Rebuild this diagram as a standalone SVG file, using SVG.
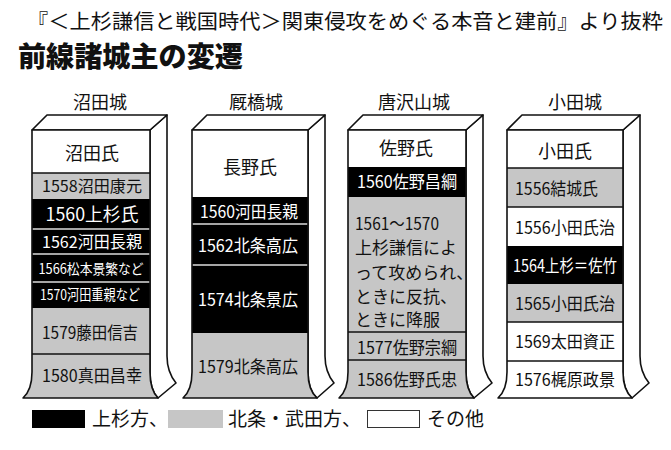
<svg xmlns="http://www.w3.org/2000/svg" width="671" height="450" viewBox="0 0 671 450">
<style>
text{font-family:"Noto Sans CJK JP","Noto Sans",sans-serif;fill:#111}
.c{text-anchor:middle}
.w{fill:#fff}
.cap{font-size:18px;text-anchor:middle}
.out{fill:#fff;stroke:#111;stroke-width:1.6;stroke-linejoin:round}
.fr{fill:none;stroke:#111;stroke-width:1.6;stroke-linejoin:round}
.g{fill:#c6c6c6}
.b{fill:#000}
.wf{fill:#fff}
.sk{stroke:#111;stroke-width:1.4}
.sw{stroke:#ddd;stroke-width:1.4}
</style>
<defs>
<clipPath id="k1"><path d="M32,130 H150 V372 Q150,390 158,398 H23 Q32,390 32,372 Z"/></clipPath>
<clipPath id="k2"><path d="M192,130 H308 V372 Q308,390 317,398 H183 Q192,390 192,372 Z"/></clipPath>
<clipPath id="k3"><path d="M348,130 H466 V372 Q466,390 474,398 H339 Q348,390 348,372 Z"/></clipPath>
<clipPath id="k4"><path d="M507,130 H623 V372 Q623,390 632,398 H498 Q507,390 507,372 Z"/></clipPath>
</defs>
<rect width="671" height="450" fill="#fff"/>
<text x="27" y="28.5" style="font-size:20px" textLength="636" lengthAdjust="spacingAndGlyphs">『＜上杉謙信と戦国時代＞関東侵攻をめぐる本音と建前』より抜粋</text>
<text x="18" y="67" style="font-size:28px;font-weight:900" textLength="225" lengthAdjust="spacingAndGlyphs">前線諸城主の変遷</text>

<g id="numata">
<text class="cap" x="100" y="108.7">沼田城</text>
<path class="out" d="M150,130 L167,115 V356 Q167,372 176,383 L158,398 Q150,390 150,372 Z"/>
<path class="out" d="M32,130 L47,115 H167 L150,130 Z"/>
<g clip-path="url(#k1)">
<rect class="wf" x="20" y="130" width="140" height="43"/>
<rect class="g" x="20" y="173" width="140" height="26"/>
<rect class="b" x="20" y="199" width="140" height="109"/>
<rect class="g" x="20" y="308" width="140" height="92"/>
<line class="sk" x1="20" y1="173" x2="160" y2="173"/>
<line class="sw" x1="20" y1="229" x2="160" y2="229"/>
<line class="sw" x1="20" y1="254" x2="160" y2="254"/>
<line class="sw" x1="20" y1="282" x2="160" y2="282"/>
<line class="sk" x1="20" y1="354" x2="160" y2="354"/>
</g>
<path class="fr" d="M32,130 H150 V372 Q150,390 158,398 H23 Q32,390 32,372 Z"/>
<text class="c" x="92" y="159.7" style="font-size:18px">沼田氏</text>
<text class="c" x="92" y="192" style="font-size:16px" textLength="100" lengthAdjust="spacingAndGlyphs">1558沼田康元</text>
<text class="c w" x="92" y="220.7" style="font-size:18px" textLength="93" lengthAdjust="spacingAndGlyphs">1560上杉氏</text>
<text class="c w" x="92" y="248" style="font-size:16.5px" textLength="100" lengthAdjust="spacingAndGlyphs">1562河田長親</text>
<text class="c w" x="91" y="273.7" style="font-size:14px" textLength="105" lengthAdjust="spacingAndGlyphs">1566松本景繁など</text>
<text class="c w" x="90" y="300.4" style="font-size:14.5px" textLength="100" lengthAdjust="spacingAndGlyphs">1570河田重親など</text>
<text class="c" x="90" y="339.3" style="font-size:17px" textLength="96" lengthAdjust="spacingAndGlyphs">1579藤田信吉</text>
<text class="c" x="92" y="382.3" style="font-size:17px" textLength="100" lengthAdjust="spacingAndGlyphs">1580真田昌幸</text>
</g>

<g id="umayabashi">
<text class="cap" x="256" y="108.7">厩橋城</text>
<path class="out" d="M308,130 L325,115 V356 Q325,372 334,383 L317,398 Q308,390 308,372 Z"/>
<path class="out" d="M192,130 L207,115 H325 L308,130 Z"/>
<g clip-path="url(#k2)">
<rect class="wf" x="180" y="130" width="140" height="67"/>
<rect class="b" x="180" y="197" width="140" height="136"/>
<rect class="g" x="180" y="333" width="140" height="67"/>
<line class="sw" x1="180" y1="224" x2="320" y2="224"/>
<line class="sw" x1="180" y1="265" x2="320" y2="265"/>
</g>
<path class="fr" d="M192,130 H308 V372 Q308,390 317,398 H183 Q192,390 192,372 Z"/>
<text class="c" x="250" y="173.7" style="font-size:18px">長野氏</text>
<text class="c w" x="249" y="217.8" style="font-size:17px" textLength="98" lengthAdjust="spacingAndGlyphs">1560河田長親</text>
<text class="c w" x="248" y="252.3" style="font-size:17px" textLength="100" lengthAdjust="spacingAndGlyphs">1562北条高広</text>
<text class="c w" x="248" y="306.3" style="font-size:17px" textLength="100" lengthAdjust="spacingAndGlyphs">1574北条景広</text>
<text class="c" x="248" y="373.3" style="font-size:17px" textLength="100" lengthAdjust="spacingAndGlyphs">1579北条高広</text>
</g>

<g id="karasawayama">
<text class="cap" x="414" y="108.7">唐沢山城</text>
<path class="out" d="M466,130 L483,115 V356 Q483,372 492,383 L474,398 Q466,390 466,372 Z"/>
<path class="out" d="M348,130 L363,115 H483 L466,130 Z"/>
<g clip-path="url(#k3)">
<rect class="wf" x="336" y="130" width="140" height="37"/>
<rect class="b" x="336" y="167" width="140" height="30"/>
<rect class="g" x="336" y="197" width="140" height="203"/>
<line class="sk" x1="336" y1="332" x2="476" y2="332"/>
<line class="sk" x1="336" y1="360" x2="476" y2="360"/>
</g>
<path class="fr" d="M348,130 H466 V372 Q466,390 474,398 H339 Q348,390 348,372 Z"/>
<text class="c" x="406" y="154.7" style="font-size:18px">佐野氏</text>
<text class="c w" x="407" y="188.3" style="font-size:17px" textLength="100" lengthAdjust="spacingAndGlyphs">1560佐野昌綱</text>
<text x="355" y="230.3" style="font-size:17px" textLength="84" lengthAdjust="spacingAndGlyphs">1561～1570</text>
<text x="355" y="254.3" style="font-size:17px">上杉謙信によ</text>
<text x="355" y="278.8" style="font-size:17px">って攻められ、</text>
<text x="355" y="303.3" style="font-size:17px">ときに反抗、</text>
<text x="355" y="326.3" style="font-size:17px">ときに降服</text>
<text class="c" x="407" y="354.3" style="font-size:17px" textLength="100" lengthAdjust="spacingAndGlyphs">1577佐野宗綱</text>
<text class="c" x="407" y="386.3" style="font-size:17px" textLength="100" lengthAdjust="spacingAndGlyphs">1586佐野氏忠</text>
</g>

<g id="oda">
<text class="cap" x="575" y="108.7">小田城</text>
<path class="out" d="M623,130 L640,115 V356 Q640,372 649,383 L632,398 Q623,390 623,372 Z"/>
<path class="out" d="M507,130 L522,115 H640 L623,130 Z"/>
<g clip-path="url(#k4)">
<rect class="wf" x="495" y="130" width="140" height="38"/>
<rect class="g" x="495" y="168" width="140" height="39"/>
<rect class="wf" x="495" y="207" width="140" height="39"/>
<rect class="b" x="495" y="246" width="140" height="38"/>
<rect class="g" x="495" y="284" width="140" height="38"/>
<rect class="wf" x="495" y="322" width="140" height="78"/>
<line class="sk" x1="495" y1="168" x2="635" y2="168"/>
<line class="sk" x1="495" y1="207" x2="635" y2="207"/>
<line class="sk" x1="495" y1="322" x2="635" y2="322"/>
<line class="sk" x1="495" y1="361" x2="635" y2="361"/>
</g>
<path class="fr" d="M507,130 H623 V372 Q623,390 632,398 H498 Q507,390 507,372 Z"/>
<text class="c" x="565" y="157.7" style="font-size:18px">小田氏</text>
<text x="515" y="195.3" style="font-size:17px" textLength="83" lengthAdjust="spacingAndGlyphs">1556結城氏</text>
<text x="515" y="234.3" style="font-size:17px" textLength="100" lengthAdjust="spacingAndGlyphs">1556小田氏治</text>
<text class="w" x="513" y="272.3" style="font-size:17px" textLength="104" lengthAdjust="spacingAndGlyphs">1564上杉＝佐竹</text>
<text x="515" y="310.3" style="font-size:17px" textLength="100" lengthAdjust="spacingAndGlyphs">1565小田氏治</text>
<text x="515" y="348.3" style="font-size:17px" textLength="100" lengthAdjust="spacingAndGlyphs">1569太田資正</text>
<text x="515" y="386.3" style="font-size:17px" textLength="100" lengthAdjust="spacingAndGlyphs">1576梶原政景</text>
</g>

<g id="legend">
<rect x="32" y="410" width="53" height="18" fill="#000"/>
<text x="92" y="426" style="font-size:19px">上杉方、</text>
<rect x="168" y="410" width="55" height="18" fill="#c6c6c6"/>
<text x="228" y="426" style="font-size:19px">北条・武田方、</text>
<rect x="367.5" y="410.5" width="52" height="17" fill="#fff" stroke="#333" stroke-width="1"/>
<text x="427" y="426" style="font-size:19px">その他</text>
</g>
</svg>
